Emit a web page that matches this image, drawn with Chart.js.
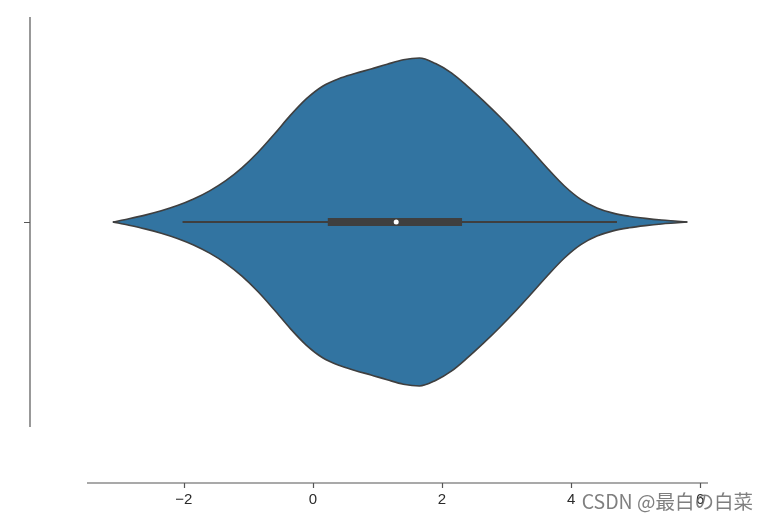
<!DOCTYPE html>
<html>
<head>
<meta charset="utf-8">
<script src="https://cdn.jsdelivr.net/npm/chart.js@4.4.1/dist/chart.umd.min.js"></script>
<style>
  body { margin: 0; background: #fff; }
  #wrap { width: 767px; height: 521px; position: relative; }
</style>
</head>
<body>
<div id="wrap"><canvas id="myChart"></canvas></div>
<script>
// kde outline (x value, relative density, max = 1)
var kdeX = [-3.1, -2.85, -2.6, -2.35, -2.1, -1.85, -1.6, -1.35, -1.1, -0.85, -0.6, -0.35, -0.1, 0.15, 0.4, 0.65, 0.9, 1.15, 1.4,
            1.65, 1.9, 2.15, 2.4, 2.65, 2.9, 3.15, 3.4, 3.65, 3.9, 4.15, 4.4, 4.65, 4.9, 5.15, 5.4, 5.65, 5.8];
var kdeDensity = [0, 0.020, 0.042, 0.068, 0.100, 0.140, 0.190, 0.252, 0.330, 0.425, 0.535, 0.650, 0.752, 0.828, 0.874, 0.905, 0.933, 0.962, 0.989,
                  1.0, 0.966, 0.908, 0.826, 0.736, 0.640, 0.538, 0.430, 0.320, 0.218, 0.138, 0.086, 0.054, 0.035, 0.022, 0.012, 0.005, 0];

// inner box: whisker ends, quartiles, median
var whiskers = [-2.02, 4.71];
var quartiles = [0.23, 2.31];
var median = 1.29;

var xTicks = [-2, 0, 2, 4, 6];
var yTicks = [0];
var watermark = 'CSDN @最白の白菜';

var halfWidth = 0.4;
var upper = kdeX.map((x, i) => ({ x: x, y: kdeDensity[i] * halfWidth }));
var lower = kdeX.map((x, i) => ({ x: x, y: -kdeDensity[i] * halfWidth }));

var spines = {
    id: 'spines',
    afterDraw(chart) {
        var ctx = chart.ctx;
        var xs = chart.scales.x, ys = chart.scales.y;
        var area = chart.chartArea;
        var xAxisY = 483, yAxisX = 30;
        ctx.save();
        ctx.strokeStyle = '#555';
        ctx.lineWidth = 1.2;
        ctx.beginPath();
        ctx.moveTo(area.left, xAxisY);
        ctx.lineTo(area.right, xAxisY);
        ctx.moveTo(yAxisX, area.top);
        ctx.lineTo(yAxisX, area.bottom);
        xTicks.forEach(t => {
            var px = Math.round(xs.getPixelForValue(t)) + 0.5;
            ctx.moveTo(px, xAxisY);
            ctx.lineTo(px, xAxisY + 5);
        });
        yTicks.forEach(t => {
            var py = Math.round(ys.getPixelForValue(t)) + 0.5;
            ctx.moveTo(yAxisX - 6, py);
            ctx.lineTo(yAxisX, py);
        });
        ctx.stroke();

        ctx.fillStyle = '#2b2b2b';
        ctx.font = '15px "Liberation Sans", Arial, sans-serif';
        ctx.textAlign = 'center';
        ctx.textBaseline = 'top';
        xTicks.forEach(t => {
            var label = t < 0 ? '\u2212' + Math.abs(t) : String(t);
            ctx.fillText(label, xs.getPixelForValue(t), xAxisY + 9);
        });

        ctx.font = '19.5px "Noto Sans CJK SC", sans-serif';
        ctx.textAlign = 'right';
        ctx.textBaseline = 'middle';
        ctx.fillStyle = 'rgba(105,105,105,0.85)';
        ctx.fillText(watermark, 753, 502);
        ctx.restore();
    }
};

var ctx = document.getElementById('myChart').getContext('2d');
var myChart = new Chart(ctx, {
    type: 'line',
    data: {
        datasets: [{
            data: upper,
            borderColor: '#3f3f3f',
            borderWidth: 1.6,
            pointRadius: 0,
            cubicInterpolationMode: 'monotone',
            fill: false,
            order: 5
        }, {
            data: lower,
            borderColor: '#3f3f3f',
            borderWidth: 1.6,
            backgroundColor: '#3274a1',
            pointRadius: 0,
            cubicInterpolationMode: 'monotone',
            fill: '-1',
            order: 4
        }, {
            data: [{ x: whiskers[0], y: 0 }, { x: whiskers[1], y: 0 }],
            borderColor: '#3f3f3f',
            borderWidth: 2,
            pointRadius: 0,
            fill: false,
            order: 3
        }, {
            data: [{ x: quartiles[0], y: 0 }, { x: quartiles[1], y: 0 }],
            borderColor: '#3f3f3f',
            borderWidth: 8,
            borderCapStyle: 'butt',
            pointRadius: 0,
            fill: false,
            order: 2
        }, {
            data: [{ x: median, y: 0 }],
            showLine: false,
            pointRadius: 2.5,
            pointBackgroundColor: '#ffffff',
            pointBorderWidth: 0,
            order: 1
        }]
    },
    options: {
        responsive: true,
        maintainAspectRatio: false,
        animation: false,
        layout: { padding: { left: 87, right: 59, top: 17, bottom: 94 } },
        scales: {
            x: { type: 'linear', min: -3.5, max: 6.12, display: false },
            y: { type: 'linear', min: -0.5, max: 0.5, display: false }
        },
        plugins: {
            legend: { display: false },
            tooltip: { enabled: false },
            filler: { drawTime: 'beforeDatasetsDraw' }
        }
    },
    plugins: [spines]
});
</script>
</body>
</html>
